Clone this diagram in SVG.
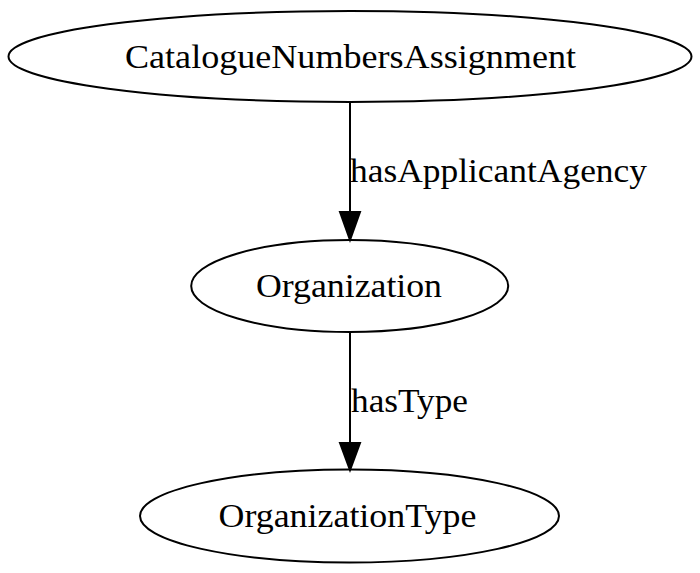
<svg xmlns="http://www.w3.org/2000/svg" width="700" height="573" viewBox="0 0 700 573">
<defs>
<style>
.node ellipse{fill:none;stroke:#000;stroke-width:2}
.node text{font-family:"Liberation Serif","Times New Roman",serif;font-size:34px;fill:#000;text-anchor:middle}
.edge line{stroke:#000;stroke-width:2}
.edge polygon{fill:#000;stroke:#000;stroke-width:2}
.edge text{font-family:"Liberation Serif","Times New Roman",serif;font-size:34px;fill:#000}
</style>
</defs>
<rect width="700" height="573" fill="#fff"/>
<g id="edges">
<g class="edge" id="e1">
<line x1="350" y1="102" x2="350" y2="212"/>
<polygon points="340,212 350,240 360,212"/>
<text x="350" y="182" textLength="297" lengthAdjust="spacingAndGlyphs">hasApplicantAgency</text>
</g>
<g class="edge" id="e2">
<line x1="350" y1="332" x2="350" y2="443"/>
<polygon points="340,443 350,470 360,443"/>
<text x="351" y="412" textLength="117" lengthAdjust="spacingAndGlyphs">hasType</text>
</g>
</g>
<g class="node" id="CatalogueNumbersAssignment">
<ellipse cx="350" cy="56.5" rx="341.5" ry="45.5"/>
<text x="350.5" y="68" textLength="451" lengthAdjust="spacingAndGlyphs">CatalogueNumbersAssignment</text>
</g>
<g class="node" id="Organization">
<ellipse cx="349.7" cy="286" rx="158.5" ry="46"/>
<text x="349" y="297" textLength="186" lengthAdjust="spacingAndGlyphs">Organization</text>
</g>
<g class="node" id="OrganizationType">
<ellipse cx="349.5" cy="516" rx="209.5" ry="46.5"/>
<text x="347.5" y="527" textLength="258" lengthAdjust="spacingAndGlyphs">OrganizationType</text>
</g>
</svg>
